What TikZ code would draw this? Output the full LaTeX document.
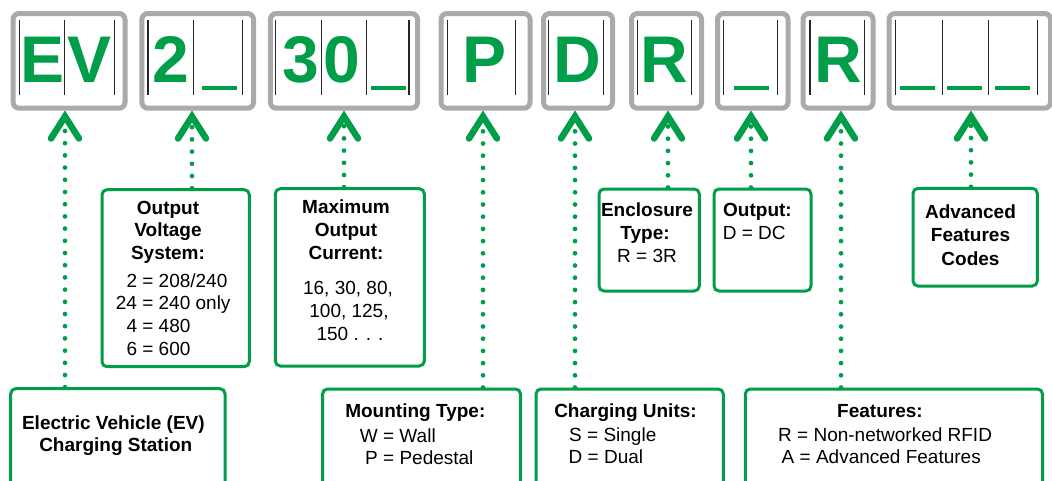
\documentclass[tikz,border=0pt]{standalone}
\usepackage{fontspec}
\setmainfont{Liberation Sans}
\definecolor{evgreen}{RGB}{0,158,73}
\definecolor{boxgray}{RGB}{170,170,170}
\begin{document}
\begin{tikzpicture}[x=1pt,y=-1pt,
  graybox/.style={draw=boxgray, line width=5pt, rounded corners=6pt, inner sep=0pt, anchor=north west, minimum height=94.7pt},
  greenbox/.style={draw=evgreen, line width=3pt, rounded corners=5pt, inner sep=0pt, anchor=north west},
  sepline/.style={draw=black!85, line width=1.1pt},
  gbar/.style={draw=evgreen, line width=3.6pt},
  big/.style={font=\fontsize{66}{66}\selectfont\bfseries, text=evgreen, inner sep=0pt, anchor=base},
  chev/.style={draw=evgreen, line width=6.5pt, line cap=round, line join=miter},
  dotline/.style={draw=evgreen, line width=4.7pt, line cap=round, dash pattern=on 0pt off 12.2pt},
  ttl/.style={font=\fontsize{19}{23}\selectfont\bfseries, inner sep=0pt, anchor=base},
  val/.style={font=\fontsize{19}{23}\selectfont, inner sep=0pt, anchor=base west},
  valc/.style={font=\fontsize{19}{23}\selectfont, inner sep=0pt, anchor=base},
]
\useasboundingbox (0,0) rectangle (1052,480);
\clip (0,0) rectangle (1052,480);
\fill[white] (0,0) rectangle (1052,480);

% ---------- top code boxes ----------
\node[graybox, minimum width=111.9pt] (bEV) at (10.6,11) {};
\node[graybox, minimum width=111.6pt] (b2) at (139.4,11) {};
\node[graybox, minimum width=147.1pt] (b30) at (267.9,11) {};
\node[graybox, minimum width=89pt] (bP) at (438.5,11) {};
\node[graybox, minimum width=69pt] (bD) at (541,11) {};
\node[graybox, minimum width=70pt] (bR) at (629,11) {};
\node[graybox, minimum width=70.5pt] (bO) at (715,11) {};
\node[graybox, minimum width=70pt] (bF) at (800.5,11) {};
\node[graybox, minimum width=161.5pt] (bA) at (886.5,11) {};

\foreach \x in {19.3,64.2,114.3, 148,193.4,242.7, 275.5,321.2,366.1,409,
                447.3,515.5, 548.2,603.3, 637.6,691.7, 723.3,777.7, 810,864.4,
                895.7,942.6,988.5,1037.8}
  \draw[sepline] (\x,20.3) -- (\x,95.3);

\node[big] (cE) at (42.3,82.8) {E};
\node[big] (cV) at (89.3,82.8) {V};
\node[big] (c2) at (170.8,82.8) {2};
\node[big] (c3) at (301.3,82.8) {3};
\node[big] (c0) at (342.2,82.8) {0};
\node[big] (cP) at (484.2,82.8) {P};
\node[big] (cD) at (577.6,82.8) {D};
\node[big] (cR) at (664.6,82.8) {R};
\node[big] (cR2) at (838,82.8) {R};

\draw[gbar] (202,88) -- (236.6,88);
\draw[gbar] (371,88) -- (405.7,88);
\draw[gbar] (734.2,88) -- (769.2,88);
\draw[gbar] (900.1,88) -- (934.8,88);
\draw[gbar] (947,88) -- (982.4,88);
\draw[gbar] (994.6,88) -- (1030.3,88);

% ---------- description boxes ----------
\node[greenbox, minimum width=147.3pt, minimum height=177pt] (ov) at (100.5,188.2) {};
\node[greenbox, minimum width=149pt, minimum height=177.3pt] (mc) at (273.8,187.2) {};
\node[greenbox, minimum width=100.3pt, minimum height=102pt] (enc) at (597.5,187.5) {};
\node[greenbox, minimum width=97pt, minimum height=102pt] (out) at (712.5,187.5) {};
\node[greenbox, minimum width=124.3pt, minimum height=97.7pt] (adv) at (911.5,186.8) {};
\node[greenbox, minimum width=214.3pt, minimum height=120pt] (evd) at (9.2,387.2) {};
\node[greenbox, minimum width=198pt, minimum height=120pt] (mnt) at (321,387.5) {};
\node[greenbox, minimum width=187.3pt, minimum height=120pt] (chg) at (534.5,387.5) {};
\node[greenbox, minimum width=297.2pt, minimum height=120pt] (fea) at (743.8,387.5) {};

% ---------- arrows ----------
\coordinate (tEV) at (65,116.5);
\coordinate (t2) at (192,116.5);
\coordinate (t30) at (344,116.5);
\coordinate (tP) at (483,116.5);
\coordinate (tD) at (575,116.5);
\coordinate (tR) at (668,116.5);
\coordinate (tO) at (751,116.5);
\coordinate (tF) at (841,116.5);
\coordinate (tA) at (971,116.5);

\draw[dotline] (evd.north -| tEV) -- (tEV);
\draw[dotline] (ov.north -| t2) -- (t2);
\draw[dotline] (mc.north -| t30) -- (t30);
\draw[dotline] (mnt.north -| tP) -- (tP);
\draw[dotline] (chg.north -| tD) -- (tD);
\draw[dotline] (enc.north -| tR) -- (tR);
\draw[dotline] (out.north -| tO) -- (tO);
\draw[dotline] (fea.north -| tF) -- (tF);
\draw[dotline] (adv.north -| tA) -- (tA);

\foreach \t in {tEV,t2,t30,tP,tD,tR,tO,tF,tA}
  \draw[chev] (\t) ++(-14,22) -- (\t) -- ++(14,22);

% ---------- texts ----------
\node[ttl] (ov1) at (168,214) {Output};
\node[ttl] (ov2) at (168,236.5) {Voltage};
\node[ttl] (ov3) at (168,259) {System:};
\node[val] (ov4) at (126.3,287) {2 = 208/240};
\node[val] (ov5) at (115.7,309.5) {24 = 240 only};
\node[val] (ov6) at (126.3,332) {4 = 480};
\node[val] (ov7) at (126.3,355.5) {6 = 600};

\node[ttl] (mc1) at (346,213) {Maximum};
\node[ttl] (mc2) at (346,236) {Output};
\node[ttl] (mc3) at (346,259) {Current:};
\node[valc] (mc4) at (348,294) {16, 30, 80,};
\node[valc] (mc5) at (349,317) {100, 125,};
\node[valc] (mc6) at (350,340) {150 . . .};

\node[ttl] (en1) at (647,216) {Enclosure};
\node[ttl] (en2) at (645,239.3) {Type:};
\node[valc] (en3) at (647,262.7) {R = 3R};

\node[ttl, anchor=base west] (ou1) at (723,216) {Output:};
\node[val] (ou2) at (722.6,239.3) {D = DC};

\node[ttl] (ad1) at (970.5,218.3) {Advanced};
\node[ttl] (ad2) at (970.5,241.7) {Features};
\node[ttl] (ad3) at (970.5,265) {Codes};

\node[ttl] (ev1) at (113.4,429) {Electric Vehicle (EV)};
\node[ttl] (ev2) at (115.8,451) {Charging Station};

\node[ttl] (mt1) at (415.3,417) {Mounting Type:};
\node[val] (mt2) at (359.7,442) {W = Wall};
\node[val] (mt3) at (365,464.5) {P = Pedestal};

\node[ttl] (ch1) at (625.5,417) {Charging Units:};
\node[val] (ch2) at (569,441.5) {S = Single};
\node[val] (ch3) at (568.5,463.5) {D = Dual};

\node[ttl] (fe1) at (880,417) {Features:};
\node[val] (fe2) at (778,441.5) {R = Non-networked RFID};
\node[val] (fe3) at (781.5,463.5) {A = Advanced Features};
\end{tikzpicture}
\end{document}
